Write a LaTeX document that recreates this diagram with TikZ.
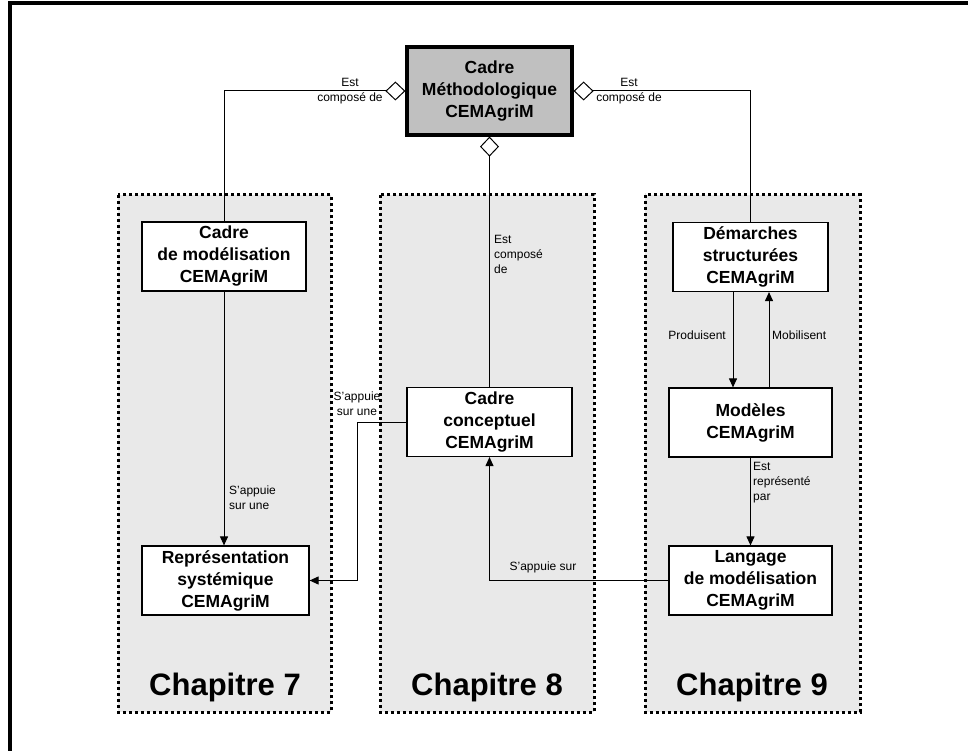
\documentclass[tikz,border=0pt]{standalone}
\usepackage{fontspec}
\setmainfont{Liberation Sans}
\usetikzlibrary{arrows.meta}

\definecolor{fondgris}{HTML}{E9E9E9}
\definecolor{boitegris}{HTML}{C0C0C0}

\tikzset{
  panneau/.style={fill=fondgris, line width=3pt, dash pattern=on 3pt off 3pt},
  boite/.style={draw, fill=white, line width=1.2pt, align=center, inner sep=0pt,
    minimum height=69, font=\fontsize{17.5}{22}\selectfont\bfseries},
  boitemere/.style={boite, fill=boitegris, line width=3.2pt, minimum width=165, minimum height=88},
  etiq/.style={align=center, inner sep=1pt, font=\fontsize{12}{15}\selectfont},
  chapitre/.style={font=\fontsize{31}{36}\selectfont\bfseries},
  compo/.style={{Diamond[open,length=20pt,width=19pt]}-, line width=1pt},
  fleche/.style={-{Triangle[length=9pt,width=8pt]}, line width=1pt}
}

\begin{document}
\begin{tikzpicture}[x=1pt, y=-1pt]
    \useasboundingbox (0,0) rectangle (968,751);
    \clip (0,0) rectangle (968,751);

    % Cadre exterieur
    \draw[line width=4pt] (10,3.5) rectangle (1000,800);

    % Panneaux des chapitres
    \draw[panneau] (118,195) rectangle (331,712);
    \draw[panneau] (380,195) rectangle (594,712);
    \draw[panneau] (645,195) rectangle (860,712);
    \node[chapitre] (chap7) at (225,687) {Chapitre 7};
    \node[chapitre] (chap8) at (487,687) {Chapitre 8};
    \node[chapitre] (chap9) at (752,687) {Chapitre 9};

    % Boites
    \node[boitemere] (cadre) at (489.5,91) {Cadre\\Méthodologique\\CEMAgriM};
    \node[boite, minimum width=164] (modelisation) at (224,256.5) {Cadre\\de modélisation\\CEMAgriM};
    \node[boite, minimum width=167] (representation) at (225.5,580.5) {Représentation\\systémique\\CEMAgriM};
    \node[boite, minimum width=165] (conceptuel) at (489.5,422) {Cadre\\conceptuel\\CEMAgriM};
    \node[boite, minimum width=155] (demarches) at (750.5,257) {Démarches\\structurées\\CEMAgriM};
    \node[boite, minimum width=163] (modeles) at (750.5,422.5) {Modèles\\CEMAgriM};
    \node[boite, minimum width=163] (langage) at (750.5,580.5) {Langage\\de modélisation\\CEMAgriM};

    % Composition
    \draw[compo] (cadre.west) -| (modelisation.north);
    \draw[compo] (cadre.east) -| (demarches.north);
    \draw[compo] (cadre.south) -- (conceptuel.north);
    \node[etiq] (estg) at (350,91) {Est\\composé de};
    \node[etiq] (estd) at (629,91) {Est\\composé de};
    \node[etiq, anchor=west, align=left] (estc) at (493,254) {Est\\composé\\de};

    % Chapitre 7
    \draw[fleche] (modelisation.south) -- (modelisation.south |- representation.north);
    \node[etiq, anchor=west, align=left] (appui1) at (228,498) {S'appuie\\sur une};

    % Cadre conceptuel -> representation
    \coordinate (coude1) at (357,422);
    \draw[fleche] (conceptuel.west) -- (coude1) |- (representation.east);
    \node[etiq] (appui2) at (357,404) {S'appuie\\sur une};

    % Chapitre 9
    \draw[fleche] ([xshift=-17.5pt]demarches.south) -- ([xshift=-17.5pt]modeles.north);
    \draw[fleche] ([xshift=18.5pt]modeles.north) -- ([xshift=18.5pt]demarches.south);
    \node[etiq, anchor=east] (produit) at (727,335) {Produisent};
    \node[etiq, anchor=west] (mobilise) at (771,335) {Mobilisent};
    \draw[fleche] (modeles.south) -- (langage.north);
    \node[etiq, anchor=west, align=left] (represente) at (752,483) {Est\\représenté\\par};

    % Langage -> cadre conceptuel
    \draw[fleche] (langage.west) -| (conceptuel.south);
    \node[etiq] (appui3) at (543,567) {S'appuie sur};

\end{tikzpicture}
\end{document}
